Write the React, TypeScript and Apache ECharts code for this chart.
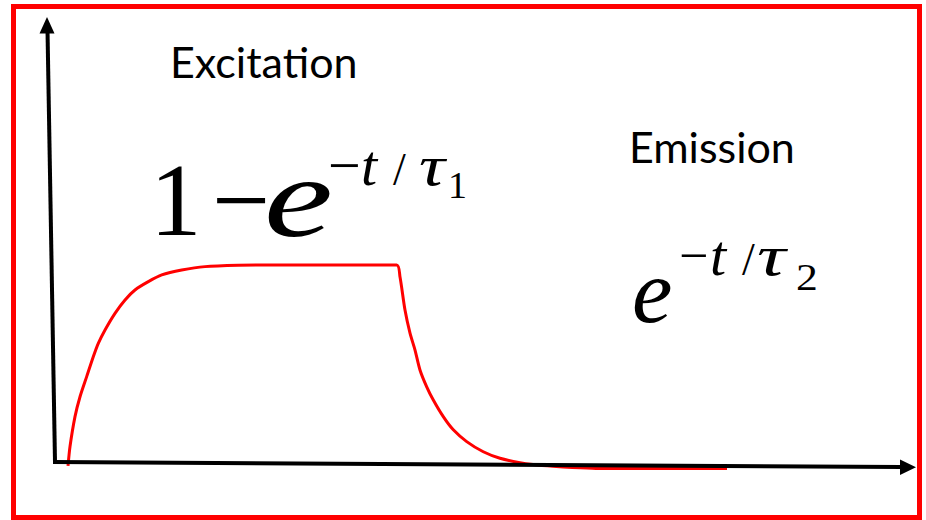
import React, { useEffect, useRef } from "react";
import * as echarts from "echarts";

// Normalised intensity over time (t in arbitrary units, 0..100)
const excitationTime = [0, 0.3, 1.06, 1.82, 2.83, 3.83, 4.59, 5.61, 7.12, 8.64, 10.15, 12.17, 14.2, 17.23, 20.76, 25.8, 30, 49.8];
const excitationLevel = [0.01, 0.105, 0.253, 0.351, 0.45, 0.548, 0.614, 0.68, 0.762, 0.828, 0.877, 0.918, 0.951, 0.975, 0.992, 0.999, 1.0, 1.0];
const emissionTime = [50.3, 51.06, 51.82, 52.58, 53.33, 54.35, 55.35, 56.86, 58.38, 60.41, 62.92, 65.45, 68.48, 70.45, 73.5, 76.4, 80, 99.85];
const emissionLevel = [0.942, 0.778, 0.664, 0.581, 0.483, 0.4, 0.335, 0.253, 0.188, 0.13, 0.08, 0.048, 0.026, 0.017, 0.008, 0.002, -0.002, -0.002];

const labels = ["Excitation", "Emission"];

const SERIF = '"Liberation Serif", "Times New Roman", serif';
const SANS = 'Lato, "Open Sans", sans-serif';

// distance from the alphabetic baseline to the central baseline, per font size
const SERIF_CENTRAL = 0.3375;
const SANS_CENTRAL = 0.387;

function glyph(text: string, x: number, baseline: number, size: number, italic: boolean, scaleX = 1) {
  return {
    type: "text",
    x,
    y: baseline - SERIF_CENTRAL * size,
    scaleX,
    z: 20,
    style: {
      text,
      font: `${italic ? "italic " : ""}${size}px ${SERIF}`,
      fill: "#000",
      align: "left",
      verticalAlign: "middle",
    },
  };
}

function label(text: string, x: number, baseline: number, size: number) {
  return {
    type: "text",
    x,
    y: baseline - SANS_CENTRAL * size,
    z: 20,
    style: { text, font: `${size}px ${SANS}`, fill: "#000", align: "left", verticalAlign: "middle" },
  };
}

export default function App() {
  const ref = useRef<HTMLDivElement>(null);

  useEffect(() => {
    if (!ref.current) return;
    const chart = echarts.init(ref.current, undefined, { renderer: "svg" });

    const curve = [
      ...excitationTime.map((t, i) => [t, excitationLevel[i]]),
      ...emissionTime.map((t, i) => [t, emissionLevel[i]]),
    ];

    chart.setOption({
      animation: false,
      backgroundColor: "#fff",
      grid: { left: 68, top: 265, width: 660, height: 203 },
      xAxis: { type: "value", min: 0, max: 100, show: false },
      yAxis: { type: "value", min: 0, max: 1, show: false },
      series: [
        {
          type: "line",
          data: curve,
          showSymbol: false,
          smooth: 0.25,
          clip: false,
          lineStyle: { color: "#ff0000", width: 3 },
          z: 2,
        },
      ],
      graphic: [
        // frame
        {
          type: "rect",
          z: 30,
          shape: { x: 13.5, y: 6.5, width: 906, height: 511 },
          style: { fill: "none", stroke: "#ff0000", lineWidth: 5 },
        },
        // vertical axis with arrow
        {
          type: "line",
          z: 25,
          shape: { x1: 55, y1: 462, x2: 47.5, y2: 30 },
          style: { stroke: "#000", lineWidth: 4 },
        },
        {
          type: "polygon",
          z: 25,
          shape: { points: [[47, 17], [39.5, 33.5], [54.5, 33.5]] },
          style: { fill: "#000" },
        },
        // horizontal axis with arrow
        {
          type: "line",
          z: 25,
          shape: { x1: 53, y1: 462, x2: 902, y2: 467 },
          style: { stroke: "#000", lineWidth: 4 },
        },
        {
          type: "polygon",
          z: 25,
          shape: { points: [[916, 467.3], [900, 459.5], [900, 475]] },
          style: { fill: "#000" },
        },
        // labels
        label(labels[0], 170, 78, 43),
        label(labels[1], 629, 163, 43),
        // 1 − e^{−t/τ1}
        glyph("1", 150, 235, 103, false),
        glyph("\u2212", 212, 235, 103, false),
        glyph("e", 264, 236, 115, true, 1.35),
        glyph("\u2212", 328, 185, 58, false),
        glyph("t", 361, 185, 58, true),
        glyph("/", 393, 185, 46, false),
        glyph("\u03c4", 419, 185, 58, true, 1.25),
        glyph("1", 448, 198, 38, false),
        // e^{−t/τ2}
        glyph("e", 632, 322, 91, true),
        glyph("\u2212", 679, 273, 52, false),
        glyph("t", 710, 275, 58, true),
        glyph("/", 742, 275, 46, false),
        glyph("\u03c4", 757, 275, 58, true, 1.38),
        glyph("2", 796, 290, 39, false, 1.12),
      ],
    });

    return () => chart.dispose();
  }, []);

  return <div ref={ref} style={{ position: "fixed", left: 0, top: 0, width: 926, height: 520, background: "#fff" }} />;
}
